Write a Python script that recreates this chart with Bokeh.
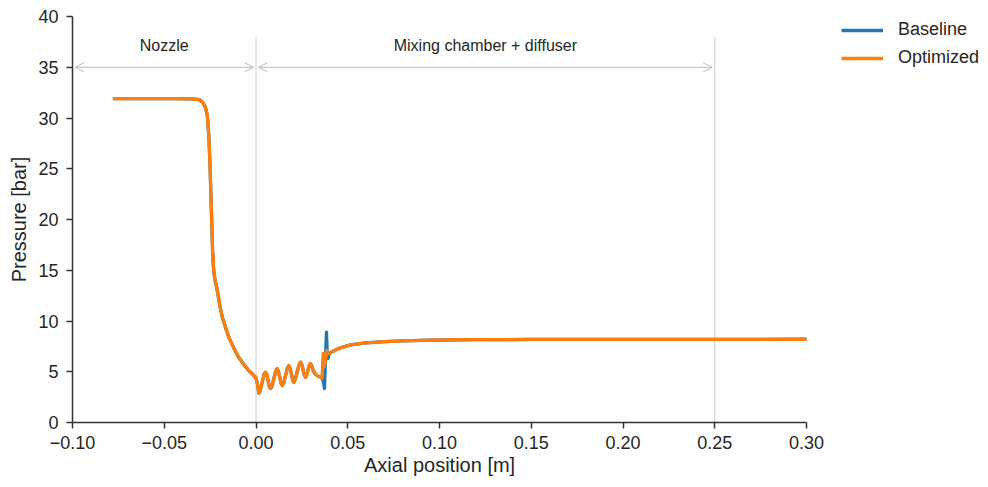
from bokeh.plotting import figure
from bokeh.models import (Range1d, FixedTicker, CustomJSTickFormatter, Legend, LegendItem,
                          Arrow, OpenHead, Label, Title)
from bokeh.embed import file_html
from bokeh.resources import INLINE

# ---------------- data ----------------
# nozzle section, shared by both designs
nozzle_x = [-0.078, -0.060, -0.045, -0.035, -0.031, -0.029, -0.0275, -0.0265, -0.026,
            -0.0255, -0.025, -0.0245, -0.0240, -0.0237, -0.0236, -0.0234, -0.0232,
            -0.0225, -0.0211, -0.0198, -0.0184, -0.0165, -0.0148, -0.012, -0.0094,
            -0.0065, -0.0039, -0.0015, 0.0]
nozzle_p = [31.9, 31.9, 31.9, 31.88, 31.8, 31.55, 31.0, 30.2, 29.0,
            27.5, 25.0, 22.0, 19.0, 17.3, 15.9, 16.6, 15.3,
            14.2, 13.0, 11.6, 10.4, 9.3, 8.4, 7.3, 6.4,
            5.7, 5.1, 4.7, 4.4]

# mixing chamber start: shock-train oscillations (shared)
osc_x = [0.0008, 0.0015, 0.0022, 0.0033, 0.0044, 0.0052, 0.0059, 0.0066, 0.0073, 0.0079,
         0.0087, 0.0097, 0.0107, 0.0115, 0.0122, 0.0130, 0.0137, 0.0143, 0.0151, 0.0161,
         0.0171, 0.0179, 0.0186, 0.0193, 0.0200, 0.0206, 0.0214, 0.0224, 0.0235, 0.0243,
         0.0250, 0.0257, 0.0264, 0.0270, 0.0277, 0.0285, 0.0292, 0.0297, 0.0304, 0.0312,
         0.0324, 0.0338, 0.0352, 0.0360]
osc_p = [3.8, 2.9, 3.05, 3.9, 4.75, 4.95, 4.75, 4.1, 3.5, 3.35,
         3.55, 4.3, 5.05, 5.3, 5.05, 4.45, 3.85, 3.65, 3.9, 4.65,
         5.35, 5.6, 5.35, 4.75, 4.2, 3.97, 4.25, 4.95, 5.7, 5.94,
         5.7, 5.15, 4.65, 4.46, 4.7, 5.3, 5.7, 5.78, 5.6, 5.1,
         4.75, 4.55, 4.46, 4.35]

# end of the shock train, different for each design
baseline_shock_x = [0.0368, 0.0373, 0.0378, 0.0384, 0.0388, 0.0392, 0.0400]
baseline_shock_p = [4.0, 3.35, 6.0, 8.9, 7.0, 6.3, 6.8]
optimized_shock_x = [0.0366, 0.0372, 0.0379, 0.0386, 0.0395, 0.0400]
optimized_shock_p = [6.8, 5.5, 6.1, 7.1, 6.8, 6.8]

# diffuser (shared)
diffuser_x = [0.0406, 0.046, 0.0515, 0.060, 0.070, 0.080, 0.090, 0.100, 0.120, 0.150, 0.200, 0.300]
diffuser_p = [6.9, 7.36, 7.65, 7.85, 7.97, 8.05, 8.10, 8.13, 8.16, 8.18, 8.19, 8.20]

baseline_x = nozzle_x + osc_x + baseline_shock_x + diffuser_x
baseline_p = nozzle_p + osc_p + baseline_shock_p + diffuser_p
optimized_x = nozzle_x + osc_x + optimized_shock_x + diffuser_x
optimized_p = nozzle_p + osc_p + optimized_shock_p + diffuser_p

series_names = ["Baseline", "Optimized"]
series_colors = ["#1f77b4", "#ff7f0e"]

# region annotations
region_bounds = [-0.10, 0.0, 0.25]
region_names = ["Nozzle", "Mixing chamber + diffuser"]
region_arrow_y = 35.0
region_line_top = 38.0
region_text_y = 37.1

x_ticks = [-0.10, -0.05, 0.0, 0.05, 0.10, 0.15, 0.20, 0.25, 0.30]
y_ticks = [0, 5, 10, 15, 20, 25, 30, 35, 40]
x_axis_span = (-0.10, 0.30)
y_axis_span = (0, 40)
x_label = "Axial position [m]"
y_label = "Pressure [bar]"

# ---------------- figure ----------------
FONT = "Liberation Sans"
TXT = "#262626"
W, H = 988, 487
LEFT, TOP, BOTTOM = 72, 16, 65
AXIS_RIGHT_PX = 806          # where x = 0.30 sits; the frame continues to the right to hold the legend
px_per_unit = (AXIS_RIGHT_PX - LEFT) / (x_axis_span[1] - x_axis_span[0])
x_view_end = x_axis_span[1] + (W - AXIS_RIGHT_PX) / px_per_unit

p = figure(width=W, height=H, output_backend="svg", toolbar_location=None,
           x_range=Range1d(x_axis_span[0], x_view_end), y_range=Range1d(*y_axis_span),
           min_border_left=LEFT, min_border_right=0, min_border_top=TOP, min_border_bottom=BOTTOM)
p.outline_line_color = None
p.grid.visible = False
p.background_fill_color = "white"
p.border_fill_color = "white"

for ax in (p.xaxis[0], p.yaxis[0]):
    ax.axis_line_color = "#333333"
    ax.axis_line_width = 1.5
    ax.major_tick_line_color = "#333333"
    ax.major_tick_line_width = 1.5
    ax.major_tick_out = 6
    ax.major_tick_in = 0
    ax.minor_tick_line_color = None
    ax.major_label_text_font = FONT
    ax.major_label_text_font_size = "18px"
    ax.major_label_text_color = TXT
    ax.axis_label_text_font = FONT
    ax.axis_label_text_font_size = "20px"
    ax.axis_label_text_font_style = "normal"
    ax.axis_label_text_color = TXT

p.xaxis.bounds = x_axis_span
p.xaxis.ticker = FixedTicker(ticks=x_ticks)
p.yaxis.ticker = FixedTicker(ticks=y_ticks)
p.xaxis.formatter = CustomJSTickFormatter(code="return tick.toFixed(2).replace('-', '\u2212');")
p.yaxis.formatter = CustomJSTickFormatter(code="return tick.toFixed(0);")
p.yaxis.axis_label = y_label
p.xaxis.major_label_standoff = 7
p.yaxis.major_label_standoff = 8
p.yaxis.axis_label_standoff = 5

# x-axis label, centred under the bounded axis (the frame is wider than the axis)
label_w_est = 151            # approx. rendered width of the label at 20px
p.add_layout(Title(text=x_label, align="left",
                   offset=(AXIS_RIGHT_PX - LEFT) / 2 - label_w_est / 2,
                   text_font=FONT, text_font_size="20px", text_font_style="normal",
                   text_color=TXT, standoff=0), "below")

# region lines, arrows, texts
p.segment(x0=region_bounds[1:], y0=[0, 0], x1=region_bounds[1:], y1=[region_line_top] * 2,
          line_color="#cccccc", line_width=1)
shrink = 2.5 / px_per_unit
for i, name in enumerate(region_names):
    a, b = region_bounds[i], region_bounds[i + 1]
    p.add_layout(Arrow(x_start=a + shrink, y_start=region_arrow_y, x_end=b - shrink, y_end=region_arrow_y,
                       line_color="#bbbbbb", line_width=1,
                       start=OpenHead(size=9, line_color="#bbbbbb", line_width=1),
                       end=OpenHead(size=9, line_color="#bbbbbb", line_width=1)))
    p.add_layout(Label(x=(a + b) / 2, y=region_text_y, text=name, text_align="center",
                       text_baseline="middle", text_font=FONT, text_font_size="16px",
                       text_color=TXT))

# data lines
r_base = p.line(baseline_x, baseline_p, line_color=series_colors[0], line_width=3.3, line_join="round")
r_opt = p.line(optimized_x, optimized_p, line_color=series_colors[1], line_width=3.3, line_join="round")

legend = Legend(items=[LegendItem(label=series_names[0], renderers=[r_base]),
                       LegendItem(label=series_names[1], renderers=[r_opt])],
                location=(841 - LEFT, 354), orientation="vertical",
                padding=0, margin=0, spacing=7,
                glyph_width=42, glyph_height=20, label_height=20, label_standoff=15,
                label_text_font=FONT, label_text_font_size="18px", label_text_color=TXT,
                border_line_color=None, background_fill_alpha=0)
p.add_layout(legend, "center")

open("out.html", "w").write(file_html(p, INLINE))
